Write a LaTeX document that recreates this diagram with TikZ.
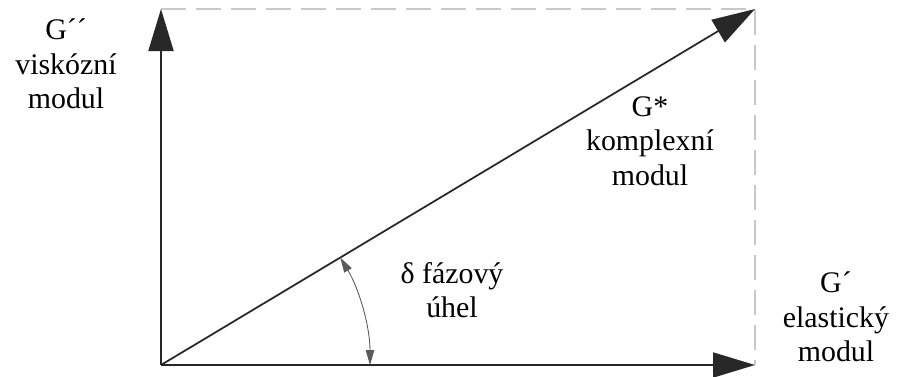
\documentclass[tikz,border=0pt]{standalone}
\usepackage{fontspec}
\setmainfont{Liberation Serif}
\usepackage{tikz}
\usetikzlibrary{arrows.meta,positioning,calc}
\definecolor{axisgray}{RGB}{40,40,40}
\definecolor{arcgray}{RGB}{90,90,90}
\definecolor{dashgray}{RGB}{200,200,200}

\begin{document}
\begin{tikzpicture}[
        axis/.style={line width=1.1pt, axisgray, -{Triangle[length=8.4mm, width=5mm]}},
        vec/.style={line width=1pt, axisgray, -{Triangle[length=8.6mm, width=5.2mm]}},
        guide/.style={line width=0.8pt, dashgray, dash pattern=on 5mm off 2mm},
        anglearc/.style={line width=0.5pt, arcgray, {Triangle[length=3mm, width=1.7mm]}-{Triangle[length=3mm, width=1.7mm]}},
        lbl/.style={align=center, font=\fontsize{17}{19.5}\selectfont}
    ]
        \useasboundingbox (-3.22,-0.22) rectangle (14.78,7.30);
        \coordinate (O) at (0,0);
        \coordinate (Y) at (0,7.12);
        \coordinate (X) at (11.88,0);
        \coordinate (C) at (11.88,7.12);
        % helper box
        \draw[guide] (Y) -- (C) -- (X);
        % axes and vector
        \draw[axis] (O) -- (Y);
        \draw[axis] (O) -- (X);
        \draw[vec] (O) -- (C);
        % phase angle
        \draw[anglearc] (4.18,0) arc[start angle=0, end angle=30.93, radius=4.18];
        \node[lbl] (gvisc) at (-1.9,6.02) {G´´\\viskózní\\modul};
        \node[lbl] (gcomp) at (9.78,4.48) {G*\\komplexní\\modul};
        \node[lbl] (delta) at (5.82,1.50) {δ fázový\\úhel};
        \node[lbl] (gel) at (13.5,0.96) {G´\\elastický\\modul};
\end{tikzpicture}
\end{document}
